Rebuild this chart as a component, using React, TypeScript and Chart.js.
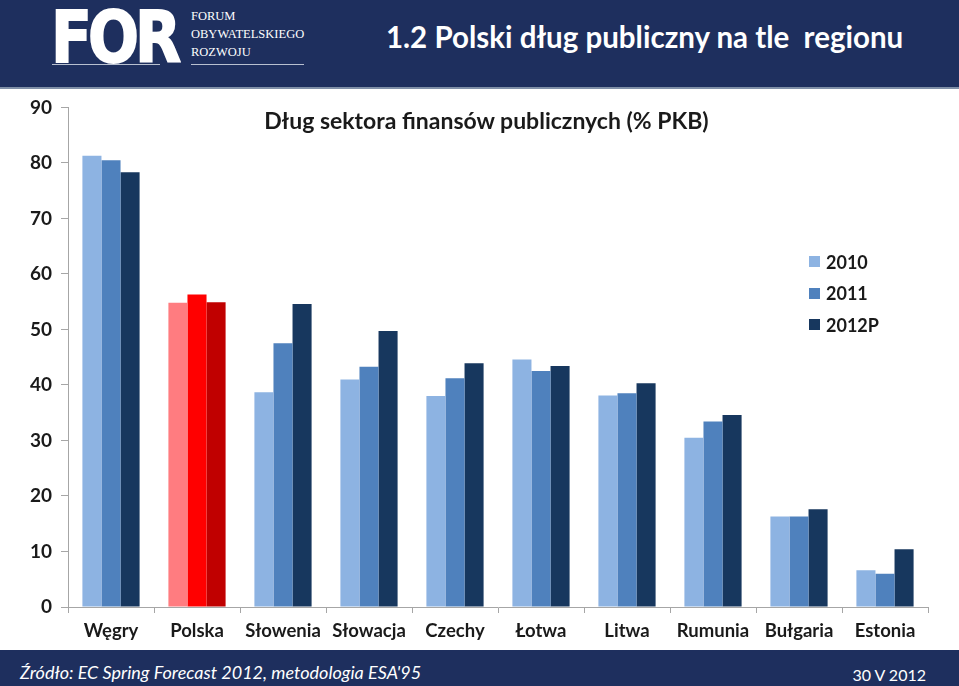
import React, { useEffect, useRef } from "react";
import Chart from "chart.js/auto";

const categories = ["Węgry", "Polska", "Słowenia", "Słowacja", "Czechy", "Łotwa", "Litwa", "Rumunia", "Bułgaria", "Estonia"];
const seriesLabels = ["2010", "2011", "2012P"];
const debt2010 = [81.3, 54.8, 38.7, 41.0, 38.0, 44.6, 38.1, 30.5, 16.3, 6.6];
const debt2011 = [80.5, 56.3, 47.5, 43.3, 41.2, 42.5, 38.5, 33.4, 16.3, 6.0];
const debt2012 = [78.3, 54.9, 54.6, 49.7, 43.9, 43.4, 40.3, 34.6, 17.6, 10.4];
const yTickValues = [0, 10, 20, 30, 40, 50, 60, 70, 80, 90];
const seriesColors = ["#8DB3E2", "#4F81BD", "#17375E"];
const highlightColors = ["#FF7C80", "#FF0000", "#C00000"];
const highlightCategory = "Polska";

const chartTitle = "Dług sektora finansów publicznych (% PKB)";
const headerTitle = "1.2 Polski dług publiczny na tle  regionu";
const sourceText = "Źródło: EC Spring Forecast 2012, metodologia ESA'95";
const dateText = "30 V 2012";

const NAVY = "#1E2F5E";
const FONT = "Lato, 'Open Sans', sans-serif";

export default function App() {
  const canvasRef = useRef<HTMLCanvasElement | null>(null);

  useEffect(() => {
    document.body.style.margin = "0";
    const canvas = canvasRef.current;
    if (!canvas) return;
    const series = [debt2010, debt2011, debt2012];
    const chart = new Chart(canvas, {
      type: "bar",
      data: {
        labels: categories,
        datasets: series.map((values, i) => ({
          label: seriesLabels[i],
          data: values,
          backgroundColor: categories.map((c) => (c === highlightCategory ? highlightColors[i] : seriesColors[i])),
          borderWidth: 0,
          categoryPercentage: 0.665,
          barPercentage: 1.0,
        })),
      },
      options: {
        animation: false,
        responsive: false,
        maintainAspectRatio: false,
        layout: { padding: { top: 12, right: 31, left: 0, bottom: 0 } },
        plugins: {
          legend: { display: false },
          tooltip: { enabled: false },
          title: { display: false },
        },
        scales: {
          x: {
            grid: {
              display: true,
              drawOnChartArea: false,
              drawTicks: true,
              tickLength: 6,
              color: "#A6A6A6",
              offset: true,
            },
            border: { display: true, color: "#A6A6A6", width: 1 },
            ticks: {
              color: "#1a1a1a",
              font: { family: FONT, size: 18.5, weight: "bold" },
              padding: 7,
              maxRotation: 0,
              autoSkip: false,
            },
            afterFit: (scale: any) => {
              scale.height = 42;
            },
          },
          y: {
            min: 0,
            max: 90,
            afterBuildTicks: (scale: any) => {
              scale.ticks = yTickValues.map((v) => ({ value: v }));
            },
            grid: {
              display: true,
              drawOnChartArea: false,
              drawTicks: true,
              tickLength: 7,
              color: "#A6A6A6",
            },
            border: { display: true, color: "#A6A6A6", width: 1 },
            ticks: {
              color: "#1a1a1a",
              font: { family: FONT, size: 19, weight: "bold" },
              padding: 9,
            },
            afterFit: (scale: any) => {
              scale.width = 68;
            },
          },
        },
      },
    });
    return () => chart.destroy();
  }, []);

  const abs = (s: React.CSSProperties): React.CSSProperties => ({ position: "absolute", ...s });

  return (
    <div style={{ position: "absolute", left: 0, top: 0, width: 959, height: 686, background: "#ffffff", overflow: "hidden", fontFamily: FONT }}>
      {/* header */}
      <div style={abs({ left: 0, top: 0, width: 959, height: 87, background: NAVY, borderBottom: "2px solid #8090A8" })}>
        <div style={abs({ left: 51, top: 2, color: "#fff", fontFamily: "'DejaVu Sans', sans-serif", fontWeight: 900, fontSize: 60, letterSpacing: -4, lineHeight: "60px", transform: "scaleY(1.18)", transformOrigin: "left top", WebkitTextStroke: "1.5px #fff" })}>FOR</div>
        <div style={abs({ left: 191, top: 7, color: "#fff", fontFamily: "'Liberation Serif', serif", fontSize: 12.5, lineHeight: "18px" })}>
          <div>FORUM</div>
          <div>OBYWATELSKIEGO</div>
          <div>ROZWOJU</div>
        </div>
        <div style={abs({ left: 52, top: 64, width: 108, height: 1, background: "#B8C0D0" })} />
        <div style={abs({ left: 191, top: 64, width: 113, height: 1, background: "#B8C0D0" })} />
        <div style={abs({ left: 386, top: 17, color: "#fff", fontWeight: "bold", fontSize: 29.5, whiteSpace: "pre", lineHeight: "40px" })}>{headerTitle}</div>
      </div>
      {/* chart */}
      <canvas ref={canvasRef} width={959} height={562} style={abs({ left: 0, top: 87, width: 959, height: 562 })} />
      <div style={abs({ left: 0, width: 959, top: 105, textAlign: "center", paddingLeft: 14, boxSizing: "border-box", color: "#1a1a1a", fontWeight: "bold", fontSize: 23, lineHeight: "30px" })}>{chartTitle}</div>
      {/* legend */}
      <div style={abs({ left: 809, top: 246 })}>
        {seriesLabels.map((l, i) => (
          <div key={l} style={{ display: "flex", alignItems: "center", height: 31.5 }}>
            <div style={{ width: 11, height: 11, background: seriesColors[i], marginRight: 6 }} />
            <div style={{ color: "#1a1a1a", fontWeight: "bold", fontSize: 18 }}>{l}</div>
          </div>
        ))}
      </div>
      {/* footer */}
      <div style={abs({ left: 0, top: 650, width: 959, height: 36, background: NAVY })}>
        <div style={abs({ left: 20, top: 7, color: "#fff", fontStyle: "italic", fontSize: 18, lineHeight: "30px", whiteSpace: "pre" })}>{sourceText}</div>
        <div style={abs({ right: 33, top: 10, color: "#fff", fontSize: 16, lineHeight: "30px" })}>{dateText}</div>
      </div>
    </div>
  );
}
